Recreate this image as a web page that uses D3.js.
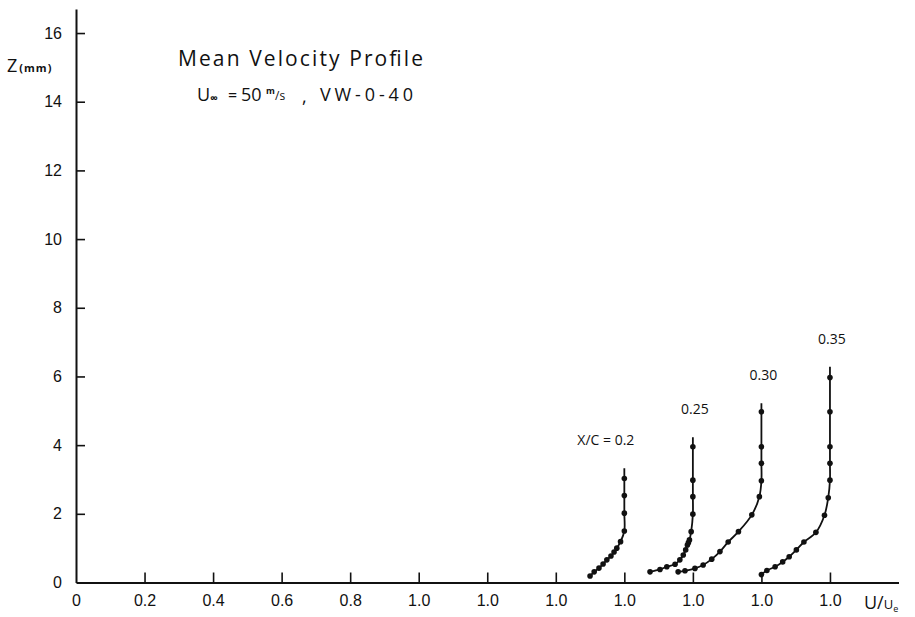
<!DOCTYPE html>
<html><head>
<meta charset="UTF-8">
<script src="https://cdn.jsdelivr.net/npm/d3@7/dist/d3.min.js"></script>
<style>
  body { margin:0; background:#fff; }
  svg { display:block; font-family: 'Open Sans', 'DejaVu Sans', sans-serif; }
  .axis path, .axis line { stroke:#111; }
  .axis text { font-size:16px; fill:#111; }
</style>
</head><body>
<svg id="chart" width="915" height="617"></svg>
<script>
// ── data (Z in mm, U/Ue) ──
const xTickVals = [0, 0.2, 0.4, 0.6, 0.8, 1.0, 1.2, 1.4, 1.6, 1.8, 2.0, 2.2];
const xTickLabels = ['0', '0.2', '0.4', '0.6', '0.8', '1.0', '1.0', '1.0', '1.0', '1.0', '1.0', '1.0'];
const yTickVals = [0, 2, 4, 6, 8, 10, 12, 14, 16];

const profileNames = ['X/C = 0.2', '0.25', '0.30', '0.35'];
const profileOffsets = [0.6, 0.8, 1.0, 1.2];   // each profile shifted by 0.2
const profileTops = [3.33, 4.23, 5.22, 6.28]; // where the drawn line ends (Z)

const z020 = [0.19, 0.31, 0.42, 0.54, 0.66, 0.77, 0.89, 1.0, 1.19, 1.5, 2.02, 2.53, 3.03];
const u020 = [0.90, 0.912, 0.926, 0.938, 0.949, 0.961, 0.97, 0.978, 0.989, 1.0, 1.0, 1.0, 1.0];

const z025 = [0.31, 0.38, 0.46, 0.53, 0.66, 0.8, 0.95, 1.09, 1.16, 1.24, 1.48, 1.99, 2.5, 2.98, 3.95];
const u025 = [0.875, 0.904, 0.924, 0.948, 0.962, 0.972, 0.979, 0.984, 0.987, 0.99, 0.995, 1.0, 1.0, 1.0, 1.0];

const z030 = [0.31, 0.34, 0.41, 0.51, 0.68, 0.9, 1.18, 1.48, 1.97, 2.5, 2.96, 3.47, 3.95, 4.97];
const u030 = [0.757, 0.777, 0.806, 0.83, 0.855, 0.879, 0.903, 0.933, 0.972, 0.994, 1.0, 1.0, 1.0, 1.0];

const z035 = [0.23, 0.35, 0.46, 0.6, 0.75, 0.95, 1.18, 1.46, 1.96, 2.47, 2.98, 3.47, 3.95, 4.97, 5.97];
const u035 = [0.80, 0.816, 0.84, 0.862, 0.881, 0.902, 0.924, 0.959, 0.984, 0.995, 1.0, 1.0, 1.0, 1.0, 1.0];

const profileZ = [z020, z025, z030, z035];
const profileU = [u020, u025, u030, u035];

// ── layout ──
const svg = d3.select('#chart');
const x = d3.scaleLinear().domain([0, 2.4]).range([76, 898.5]);
const y = d3.scaleLinear().domain([0, 16.7]).range([582.5, 9]);

// axes: ticks point inward
svg.append('g').attr('class', 'axis')
  .attr('transform', `translate(0,${y(0)})`)
  .call(d3.axisBottom(x).tickValues(xTickVals).tickSize(-10).tickSizeOuter(0).tickPadding(12)
    .tickFormat((d, i) => xTickLabels[i]))
  .call(g => g.select('.domain').attr('stroke-width', 2))
  .call(g => g.selectAll('.tick line').attr('stroke-width', 1.6))
  .call(g => g.selectAll('.tick').filter(d => d === 0).select('line').remove());

svg.append('g').attr('class', 'axis')
  .attr('transform', `translate(${x(0)},0)`)
  .call(d3.axisLeft(y).tickValues(yTickVals).tickSize(-9).tickSizeOuter(0).tickPadding(14)
    .tickFormat(d3.format('d')))
  .call(g => g.select('.domain').attr('stroke-width', 2))
  .call(g => g.selectAll('.tick line').attr('stroke-width', 1.6))
  .call(g => g.selectAll('.tick').filter(d => d === 0).select('line').remove());

// axis titles
const zt = svg.append('text').attr('x', 7).attr('y', 72).attr('fill', '#111');
zt.append('tspan').attr('font-size', 18).text('Z');
zt.append('tspan').attr('font-size', 11).attr('font-weight', 'bold').attr('dx', 2)
  .attr('letter-spacing', 1).text('(mm)');

const ut = svg.append('text').attr('x', 864).attr('y', 609).attr('fill', '#111');
ut.append('tspan').attr('font-size', 18).text('U/');
ut.append('tspan').attr('font-size', 13).text('U');
ut.append('tspan').attr('font-size', 9).attr('dy', 3).text('e');

// title block
svg.append('text').attr('x', 178).attr('y', 66).attr('font-size', 21)
  .attr('textLength', 245).attr('fill', '#111').text('Mean Velocity Profile');
const sub = svg.append('g').attr('fill', '#111');
sub.append('text').attr('x', 197).attr('y', 101).attr('font-size', 18).text('U');
sub.append('text').attr('x', 210).attr('y', 102).attr('font-size', 11).attr('font-weight', 'bold').text('∞');
sub.append('text').attr('x', 228).attr('y', 101).attr('font-size', 16).text('=');
sub.append('text').attr('x', 241).attr('y', 101).attr('font-size', 18).text('50');
sub.append('text').attr('x', 266).attr('y', 94).attr('font-size', 9).attr('font-weight', 'bold').text('m');
sub.append('text').attr('x', 275).attr('y', 100).attr('font-size', 12).text('/s');
sub.append('text').attr('x', 302).attr('y', 103).attr('font-size', 18).text(',');
sub.append('text').attr('x', 320).attr('y', 101).attr('font-size', 18)
  .attr('textLength', 93).text('VW-0-40');

// profiles
const line = d3.line().x(d => x(d.u)).y(d => y(d.z)).curve(d3.curveCatmullRom.alpha(0.5));

profileZ.forEach((zs, i) => {
  const off = profileOffsets[i];
  const pts = zs.map((z, j) => ({ z, u: profileU[i][j] + off }));
  const path = pts.concat([{ z: profileTops[i], u: 1 + off }]);
  const g = svg.append('g');
  g.append('path').datum(path).attr('d', line)
    .attr('fill', 'none').attr('stroke', '#111').attr('stroke-width', 1.8);
  g.selectAll('circle').data(pts).join('circle')
    .attr('cx', d => x(d.u)).attr('cy', d => y(d.z)).attr('r', 2.8).attr('fill', '#111');

  const lab = g.append('text').attr('font-size', 14).attr('fill', '#111')
    .attr('y', y(profileTops[i]) - 23).text(profileNames[i]);
  if (i === 0) lab.attr('x', x(1 + off) + 10).attr('text-anchor', 'end');
  else lab.attr('x', x(1 + off) + 2).attr('text-anchor', 'middle');
});
</script>
</body></html>
